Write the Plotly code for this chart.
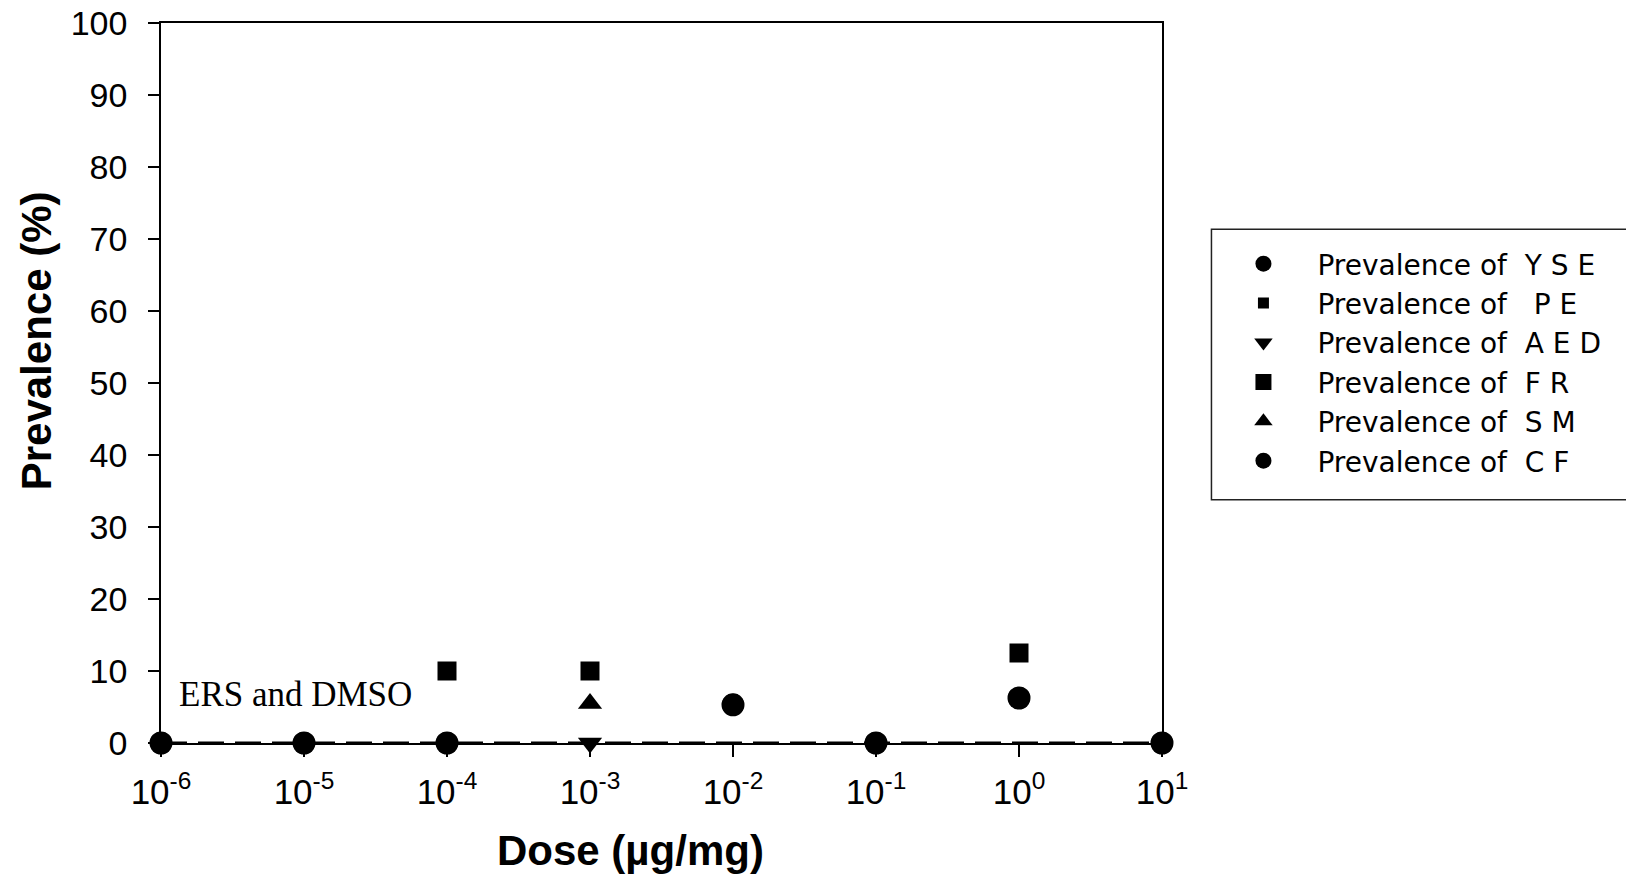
import plotly.graph_objects as go

# ---- data ----
dose = [1e-6, 1e-5, 1e-4, 1e-3, 1e-2, 1e-1, 1e0, 1e1]
yse = [0, 0, 0, None, 5.3, 0, 6.25, 0]
pe = [0, 0, 0, None, 5.3, 0, 6.25, 0]
aed = [None, None, None, 0, None, None, None, None]
fr = [None, None, 10, 10, None, None, 12.5, None]
sm = [None, None, None, 5.5, None, None, None, None]
cf = [0, 0, 0, None, 5.3, 0, 6.25, 0]

fit_x = [1e-6, 1e1]
fit_y = [0, 0]

x_tickvals = [1e-6, 1e-5, 1e-4, 1e-3, 1e-2, 1e-1, 1e0, 1e1]
x_ticktext = ["10<sup>-6</sup>", "10<sup>-5</sup>", "10<sup>-4</sup>", "10<sup>-3</sup>",
              "10<sup>-2</sup>", "10<sup>-1</sup>", "10<sup>0</sup>", "10<sup>1</sup>"]
y_tickvals = [0, 10, 20, 30, 40, 50, 60, 70, 80, 90, 100]

names = ["Prevalence of\u00a0 Y S E", "Prevalence of\u00a0\u00a0 P E", "Prevalence of\u00a0 A E D",
         "Prevalence of\u00a0 F R", "Prevalence of\u00a0 S M", "Prevalence of\u00a0 C F"]
series = [yse, pe, aed, fr, sm, cf]
symbols = ["circle", "square", "triangle-down", "square", "triangle-up", "circle"]
sizes = [23, 11, 21, 19, 21, 22]

fig = go.Figure()

fig.add_trace(go.Scatter(x=fit_x, y=fit_y, mode="lines",
                         line=dict(color="black", width=3, dash="26px,11px"),
                         showlegend=False, hoverinfo="skip", cliponaxis=False))

for i, (nm, ys, sym, sz) in enumerate(zip(names, series, symbols, sizes)):
    fig.add_trace(go.Scatter(x=dose, y=ys, mode="markers", name=nm,
                             legendgroup=f"g{i}",
                             marker=dict(symbol=sym, size=sz, color="black"),
                             cliponaxis=False))

fig.add_annotation(x=-5.885, y=6.8, xref="x", yref="y", text="ERS and DMSO",
                   showarrow=False, xanchor="left", yanchor="middle",
                   font=dict(family="Liberation Serif", size=35, color="black"))

# axis titles (placed like the original, slightly off-centre)
fig.add_annotation(x=-0.1248, y=0.558, xref="paper", yref="paper",
                   text="<b>Prevalence (%)</b>", textangle=-90, showarrow=False,
                   xanchor="center", yanchor="middle",
                   font=dict(family="Liberation Sans", size=42, color="black"))
fig.add_annotation(x=0.4693, y=-0.150, xref="paper", yref="paper",
                   text="<b>Dose (µg/mg)</b>", showarrow=False,
                   xanchor="center", yanchor="middle",
                   font=dict(family="Liberation Sans", size=42, color="black"))

# legend frame
fig.add_shape(type="rect", xref="paper", yref="paper",
              x0=1.0494, x1=1.6, y0=0.338, y1=0.7134,
              line=dict(color="#222222", width=1.5), fillcolor="rgba(0,0,0,0)")

fig.update_layout(
    width=1634, height=879,
    margin=dict(l=153, r=479.5, t=14.5, b=144, autoexpand=False),
    paper_bgcolor="white", plot_bgcolor="white",
    font=dict(family="Liberation Sans", color="black"),
    legend=dict(x=1.0474, y=0.7, xanchor="left", yanchor="top",
                borderwidth=0,
                font=dict(family="DejaVu Sans", size=28, color="black"),
                tracegroupgap=0, itemwidth=98, indentation=0,
                bgcolor="rgba(0,0,0,0)"),
)

fig.update_xaxes(type="log", range=[-6, 1], tickmode="array",
                 tickvals=x_tickvals, ticktext=x_ticktext, automargin=False,
                 showline=True, linecolor="black", linewidth=1.5, mirror=True,
                 ticks="outside", ticklen=12, tickwidth=1.5, tickcolor="black",
                 showgrid=False, zeroline=False, ticklabelstandoff=5,
                 ticklabeloverflow="allow",
                 tickfont=dict(family="Liberation Sans", size=35, color="black"))

fig.update_yaxes(range=[0, 100], tickmode="array", tickvals=y_tickvals, automargin=False,
                 showline=True, linecolor="black", linewidth=1.5, mirror=True,
                 ticks="outside", ticklen=11, tickwidth=1.5, tickcolor="black",
                 showgrid=False, zeroline=False, ticklabelstandoff=14,
                 ticklabeloverflow="allow",
                 tickfont=dict(family="Liberation Sans", size=34, color="black"))

fig.write_html("out.html")
